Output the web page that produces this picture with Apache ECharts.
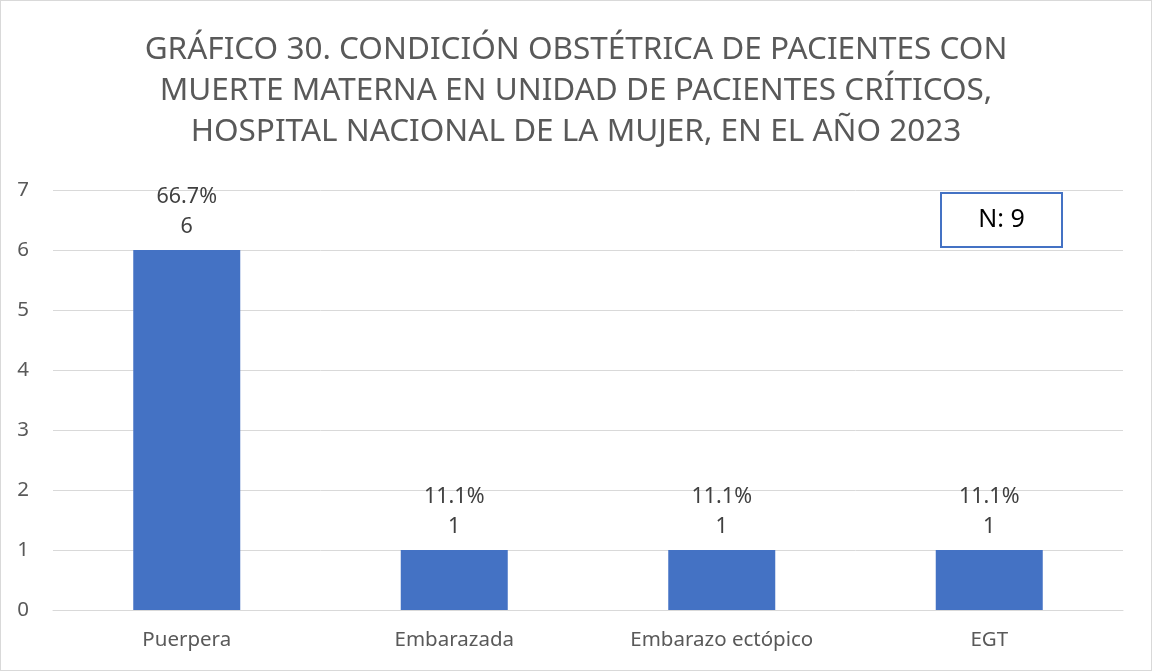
<!DOCTYPE html>
<html>
<head>
<meta charset="utf-8">
<script src="https://cdn.jsdelivr.net/npm/echarts@6/dist/echarts.min.js"></script>
<style>
html, body { margin: 0; padding: 0; background: #fff; }
#chart {
  width: 1150px;
  height: 669px;
  border: 1px solid #d9d9d9;
}
</style>
</head>
<body>
<div id="chart"></div>
<script>
// datos
var categorias = ["Puerpera", "Embarazada", "Embarazo ectópico", "EGT"];
var casos = [6, 1, 1, 1];
var porcentajes = ["66.7%", "11.1%", "11.1%", "11.1%"];
var ticksY = [0, 1, 2, 3, 4, 5, 6, 7];
var totalN = "N: 9";

var fuente = "Noto Sans";
var chart = echarts.init(document.getElementById("chart"));
chart.setOption({
  animation: false,
  textStyle: { fontFamily: fuente },
  title: {
    text: "GRÁFICO 30. CONDICIÓN OBSTÉTRICA DE PACIENTES CON\nMUERTE MATERNA EN UNIDAD DE PACIENTES CRÍTICOS,\nHOSPITAL NACIONAL DE LA MUJER, EN EL AÑO 2023",
    left: "center",
    top: 24,
    textStyle: {
      fontFamily: fuente,
      fontWeight: "normal",
      fontSize: 31.5,
      lineHeight: 41,
      color: "#595959"
    }
  },
  grid: { left: 52, right: 28, top: 189, bottom: 60 },
  xAxis: {
    type: "category",
    data: categorias,
    axisTick: { show: false },
    axisLine: { lineStyle: { color: "#d9d9d9" } },
    axisLabel: { color: "#595959", fontSize: 20.5, margin: 20 }
  },
  yAxis: {
    type: "value",
    min: ticksY[0],
    max: ticksY[ticksY.length - 1],
    interval: 1,
    splitLine: { lineStyle: { color: "#d9d9d9" } },
    axisLabel: { color: "#595959", fontSize: 20.5, margin: 24 }
  },
  series: [{
    type: "bar",
    data: casos,
    barWidth: "40%",
    itemStyle: { color: "#4472c4" },
    label: {
      show: true,
      position: "top",
      distance: 8,
      color: "#404040",
      fontSize: 21.5,
      lineHeight: 30,
      formatter: function (p) {
        return porcentajes[p.dataIndex] + "\n" + p.value;
      }
    }
  }],
  graphic: [{
    type: "group",
    right: 88,
    top: 191,
    children: [{
      type: "rect",
      shape: { x: 0, y: 0, width: 121, height: 54 },
      style: { fill: "#fff", stroke: "#4472c4", lineWidth: 2 }
    }, {
      type: "text",
      x: 60.5,
      y: 27,
      style: {
        text: totalN,
        fill: "#000",
        font: "25px " + fuente,
        textAlign: "center",
        textVerticalAlign: "middle"
      }
    }]
  }]
});
</script>
</body>
</html>
